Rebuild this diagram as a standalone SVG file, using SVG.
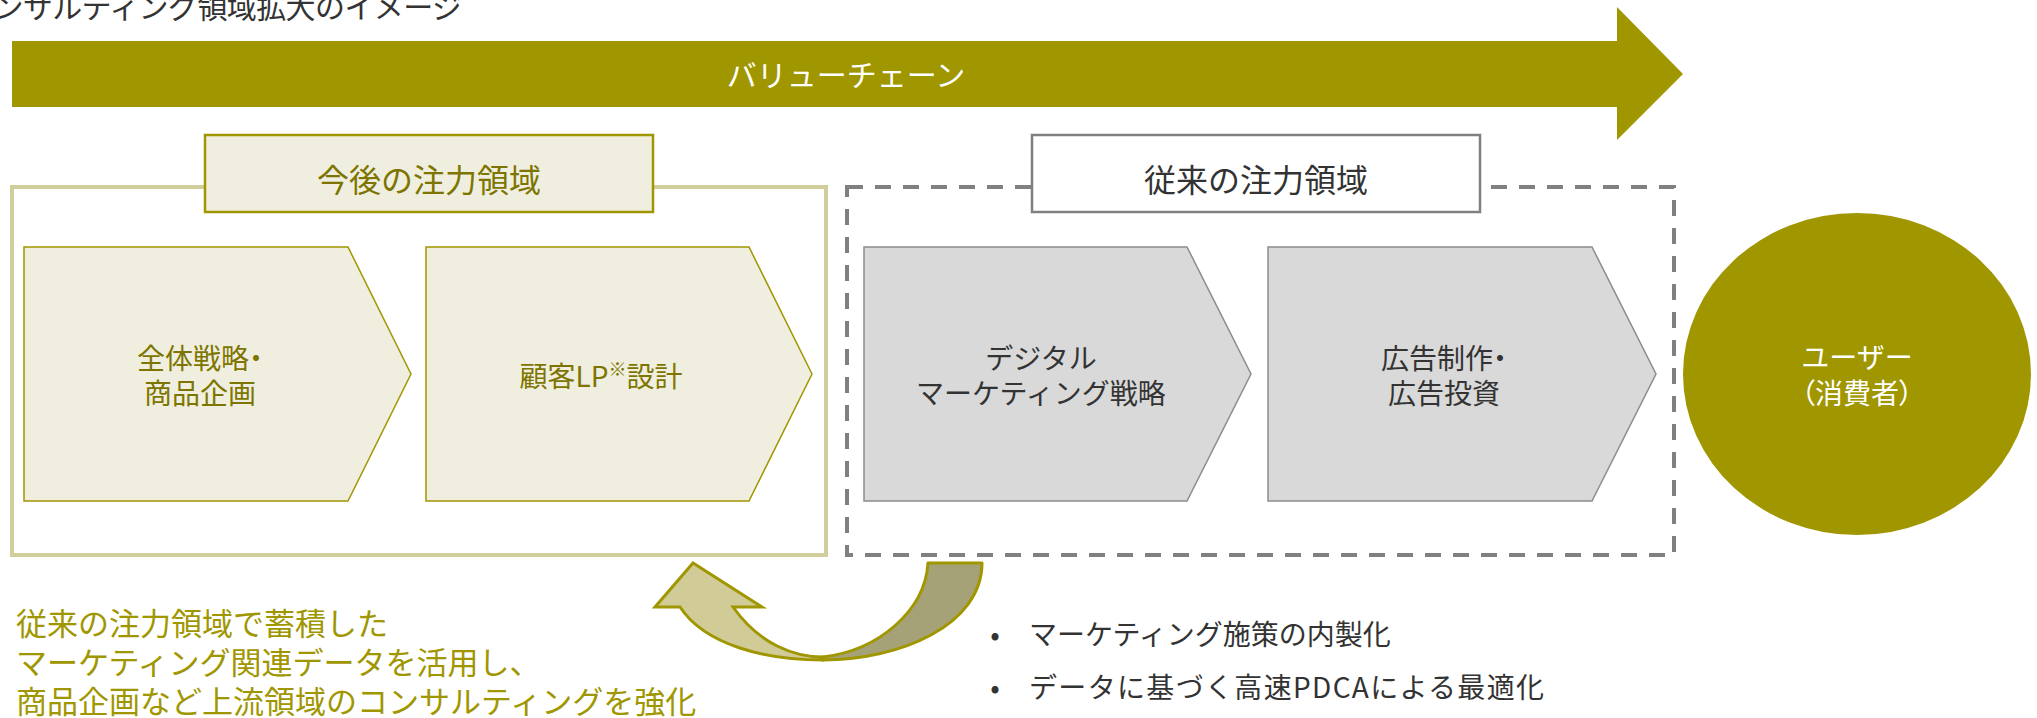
<svg xmlns="http://www.w3.org/2000/svg" width="2037" height="718" viewBox="0 0 2037 718">
<style>
text{font-family:'Noto Sans CJK JP','Noto Sans',sans-serif;}
.olive-txt{fill:#7D7500;}
.gray-txt{fill:#333333;}
.white-txt{fill:#ffffff;}
.chev-l{fill:#F0EFDF;stroke:#A09600;stroke-width:1.5;}
.chev-g{fill:#D9D9D9;stroke:#8C8C8C;stroke-width:1.5;}
.ctext{font-size:28px;text-anchor:middle;}
.palt{font-feature-settings:"palt";}
.label{font-size:32px;text-anchor:middle;}
</style>
<rect x="0" y="0" width="2037" height="718" fill="#ffffff"/>
<g id="title">
<text x="462" y="18" font-size="30" text-anchor="end" fill="#333333" textLength="498" lengthAdjust="spacing">コンサルティング領域拡大のイメージ</text>
</g>
<g id="value-chain">
<path d="M12,41 L1617,41 L1617,7 L1683,74 L1617,140 L1617,107 L12,107 Z" fill="#A09600"/>
<text x="846" y="86" font-size="30" text-anchor="middle" class="white-txt">バリューチェーン</text>
</g>
<g id="future-area">
<rect x="12" y="187" width="814" height="368" fill="#ffffff" stroke="#D2CE9C" stroke-width="4"/>
<rect x="205" y="135" width="448" height="77" fill="#F0EFDF" stroke="#A09600" stroke-width="2.5"/>
<text x="429" y="192" class="label olive-txt">今後の注力領域</text>
</g>
<g id="current-area">
<rect x="847" y="187" width="827" height="368" fill="none" stroke="#808080" stroke-width="4" stroke-dasharray="16 12"/>
<rect x="1032" y="135" width="448" height="77" fill="#ffffff" stroke="#808080" stroke-width="2.5"/>
<text x="1256" y="192" class="label gray-txt">従来の注力領域</text>
</g>
<g id="node-strategy">
<path class="chev-l" d="M24,247 L348,247 L411,374 L348,501 L24,501 Z"/>
<text x="200" y="369" class="ctext olive-txt palt">全体戦略・</text>
<text x="200" y="404" class="ctext olive-txt">商品企画</text>
</g>
<g id="node-lp">
<path class="chev-l" d="M426,247 L749,247 L812,374 L749,501 L426,501 Z"/>
<text x="601" y="387" class="ctext olive-txt">顧客LP<tspan font-size="18" dy="-11">※</tspan><tspan dy="11">設計</tspan></text>
</g>
<g id="node-digital">
<path class="chev-g" d="M864,247 L1187,247 L1251,374 L1187,501 L864,501 Z"/>
<text x="1041" y="369" class="ctext gray-txt">デジタル</text>
<text x="1041" y="404" class="ctext gray-txt">マーケティング戦略</text>
</g>
<g id="node-ad">
<path class="chev-g" d="M1268,247 L1592,247 L1656,374 L1592,501 L1268,501 Z"/>
<text x="1444" y="369" class="ctext gray-txt palt">広告制作・</text>
<text x="1444" y="404" class="ctext gray-txt">広告投資</text>
</g>
<g id="node-user">
<ellipse cx="1857" cy="374" rx="174" ry="161" fill="#A09600"/>
<text x="1857" y="368" class="ctext white-txt">ユーザー</text>
<text x="1857" y="404" class="ctext white-txt palt">（消費者）</text>
</g>
<g id="connectors">
<path d="M823,660 C900,660 982,625 982,563 L928,563 C925,610 880,650 823,657 Z" fill="#A6A277" stroke="#A09600" stroke-width="3" stroke-linejoin="round"/>
<path d="M733,607 L762,607 L693,563 L655,607 L680,607 C705,645 765,660 823,660 L823,657 C795,657 760,645 733,607 Z" fill="#D0CB97" stroke="#A09600" stroke-width="3" stroke-linejoin="miter"/>
</g>
<g id="note-left">
<text font-size="31" fill="#A09600"><tspan x="16" y="635">従来の注力領域で蓄積した</tspan><tspan x="16" y="674">マーケティング関連データを活用し、</tspan><tspan x="16" y="713">商品企画など上流領域のコンサルティングを強化</tspan></text>
</g>
<g id="note-right">
<text x="995" y="645" font-size="28" text-anchor="middle" class="gray-txt">•</text>
<text x="1029" y="645" font-size="28" class="gray-txt">マーケティング施策の内製化</text>
<text x="995" y="698" font-size="28" text-anchor="middle" class="gray-txt">•</text>
<text x="1029" y="698" font-size="28" class="gray-txt" textLength="515" lengthAdjust="spacing">データに基づく高速PDCAによる最適化</text>
</g>
</svg>
